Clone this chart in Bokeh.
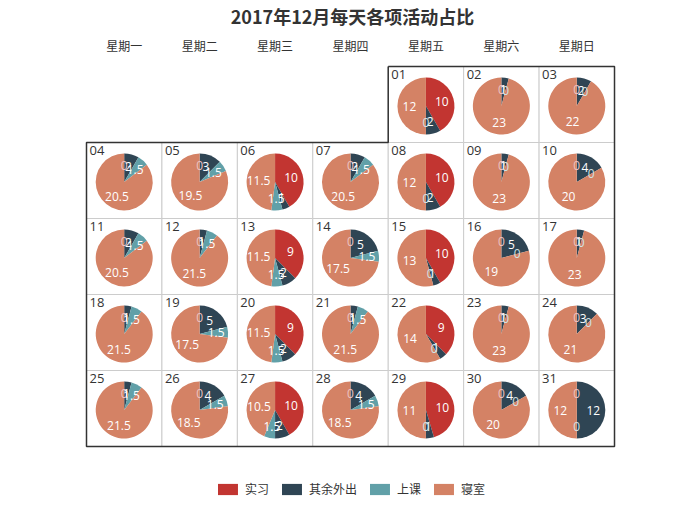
import datetime
import math
from bokeh.plotting import figure
from bokeh.models import ColumnDataSource, Range1d, Legend, LegendItem
from bokeh.core.properties import value
from bokeh.embed import file_html
from bokeh.resources import INLINE

title_text = "2017年12月每天各项活动占比"
year, month = 2017, 12
weekday_labels = ["星期一", "星期二", "星期三", "星期四", "星期五", "星期六", "星期日"]
categories = ["实习", "其余外出", "上课", "寝室"]
colors = ["#c23531", "#2f4554", "#61a0a8", "#d48265"]
days = list(range(1, 32))
internship = [10, 0, 0, 0, 0, 10, 0, 10, 0, 0, 0, 0, 9, 0, 10, 0, 0, 0, 0, 9, 0, 9, 0, 0, 0, 0, 10, 0, 10, 0, 0]
outing = [2, 1, 2, 2, 3, 1, 2, 2, 1, 4, 2, 1, 2, 5, 1, 5, 1, 1, 5, 2, 1, 1, 1, 3, 1, 4, 2, 4, 1, 4, 12]
classes = [0, 0, 0, 1.5, 1.5, 1.5, 1.5, 0, 0, 0, 1.5, 1.5, 1.5, 1.5, 0, 0, 0, 1.5, 1.5, 1.5, 1.5, 0, 0, 0, 1.5, 1.5, 1.5, 1.5, 0, 0, 0]
dorm = [12, 23, 22, 20.5, 19.5, 11.5, 20.5, 12, 23, 20, 20.5, 21.5, 11.5, 17.5, 13, 19, 23, 21.5, 17.5, 11.5, 21.5, 14, 23, 21, 21.5, 18.5, 10.5, 18.5, 11, 20, 12]
series = [internship, outing, classes, dorm]

FONT = "Noto Sans CJK SC"
NUM_FONT = "Open Sans"
W, H = 700, 516
cell_w, cell_h = 75.43, 76.0
left, top = 86.0, 66.0
pie_r = 28.5
label_r = 16.5


def tint(hexcol, f):
    r, g, b = int(hexcol[1:3], 16), int(hexcol[3:5], 16), int(hexcol[5:7], 16)
    r, g, b = [int(round(c * f + 255 * (1 - f))) for c in (r, g, b)]
    return "#%02x%02x%02x" % (r, g, b)


first_wd = datetime.date(year, month, 1).weekday()
cols = [(first_wd + d - 1) % 7 for d in days]
rows = [(first_wd + d - 1) // 7 for d in days]
n_rows = max(rows) + 1

p = figure(width=W, height=H, output_backend="svg", toolbar_location=None,
           x_range=Range1d(-left / cell_w, (W - left) / cell_w),
           y_range=Range1d((H - top) / cell_h, -top / cell_h),
           x_axis_location=None, y_axis_location=None, min_border=0, title=None)
p.grid.visible = False
p.outline_line_color = None
p.background_fill_color = "white"

cx = [c + 0.5 for c in cols]
cy = [r + 0.5 for r in rows]
pcy = [r + 0.52 for r in rows]

# calendar cells
p.rect(x=cx, y=cy, width=1, height=1, fill_color="white", line_color="#cccccc", line_width=1)

# month outline
c0 = cols[0]
cl = cols[-1]
ox = [c0, 7, 7, cl + 1, cl + 1, 0, 0, c0, c0]
oy = [0, 0, n_rows - 1, n_rows - 1, n_rows, n_rows, 1, 1, 0]
p.line(ox, oy, line_color="#333333", line_width=1.5)

# pies
wedge_data = [dict(x=[], y=[], s=[], e=[]) for _ in categories]
lab = dict(x=[], y=[], text=[], dx=[], dy=[], c=[])
for i, d in enumerate(days):
    vals = [s[i] for s in series]
    total = sum(vals)
    cum = 0.0
    for k, v in enumerate(vals):
        a = cum / total
        b = (cum + v) / total
        if v > 0:
            wd = wedge_data[k]
            wd["x"].append(cx[i])
            wd["y"].append(pcy[i])
            wd["s"].append(math.radians(90 - b * 360))
            wd["e"].append(math.radians(90 - a * 360))
        mid = math.radians(90 - (a + b) / 2 * 360)
        lab["x"].append(cx[i])
        lab["y"].append(pcy[i])
        lab["text"].append(("%g" % v))
        lab["dx"].append(label_r * math.cos(mid))
        lab["dy"].append(-label_r * math.sin(mid))
        lab["c"].append("white" if v > 0 else tint(colors[k], 0.3))
        cum += v

wedge_renderers = []
for k, cat in enumerate(categories):
    src = ColumnDataSource(wedge_data[k])
    r = p.wedge(x="x", y="y", radius=pie_r, radius_units="screen", start_angle="s", end_angle="e",
                fill_color=colors[k], line_color=None, source=src)
    wedge_renderers.append(r)

lsrc = ColumnDataSource(lab)
p.text(x="x", y="y", text="text", x_offset="dx", y_offset="dy", source=lsrc,
       text_align="center", text_baseline="middle", text_color="c",
       text_font_size="12px", text_font=value(NUM_FONT))

# day numbers
p.text(x=cols, y=rows, text=["%02d" % d for d in days], x_offset=3, y_offset=3,
       text_align="left", text_baseline="top", text_color="#333333",
       text_font_size="13px", text_font=value(NUM_FONT))

# weekday header
p.text(x=[c + 0.5 for c in range(7)], y=[0] * 7, text=weekday_labels, y_offset=-21,
       text_align="center", text_baseline="middle", text_color="#333333",
       text_font_size="12px", text_font=value(FONT))

# title
p.text(x=[3.5], y=[0], text=[title_text], x_offset=2, y_offset=-51,
       text_align="center", text_baseline="middle", text_color="#333333",
       text_font_size="18px", text_font_style="bold", text_font=value(FONT))

legend = Legend(items=[LegendItem(label=c, renderers=[wedge_renderers[k]]) for k, c in enumerate(categories)],
                orientation="horizontal", location="bottom_center", glyph_width=25, glyph_height=14,
                label_standoff=5, spacing=10, padding=0, margin=19, border_line_color=None,
                background_fill_alpha=0, label_text_font_size="12px", label_text_font=FONT,
                label_text_color="#333333")
p.add_layout(legend)

open("out.html", "w").write(file_html(p, INLINE))
